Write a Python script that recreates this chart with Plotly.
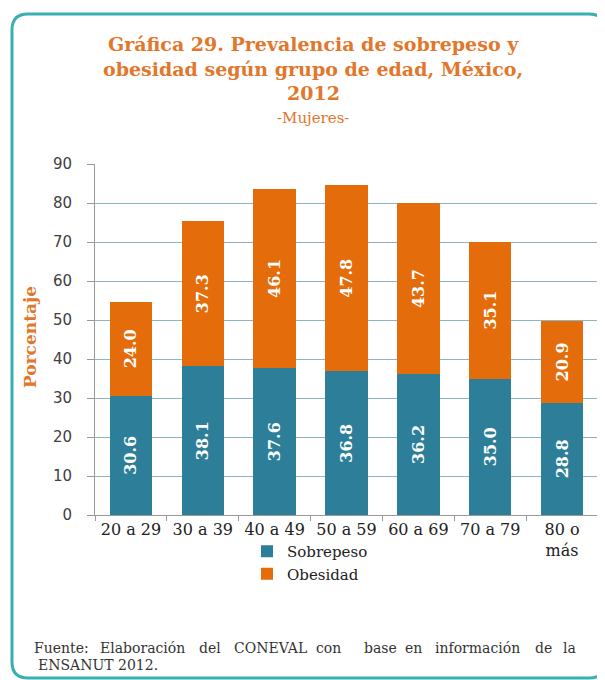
import plotly.graph_objects as go

categories = ["20 a 29", "30 a 39", "40 a 49", "50 a 59", "60 a 69", "70 a 79", "80 o<br>más"]
sobrepeso = [30.6, 38.1, 37.6, 36.8, 36.2, 35.0, 28.8]
obesidad = [24.0, 37.3, 46.1, 47.8, 43.7, 35.1, 20.9]
y_ticks = [0, 10, 20, 30, 40, 50, 60, 70, 80, 90]

OFF = 8  # page body margin
W, H = 605 - OFF, 680 - OFF
ML, MT = 95 - OFF, 164 - OFF
PLOT_R, PLOT_B = 598 - OFF, 515 - OFF
MR, MB = W - PLOT_R, H - PLOT_B
PW = PLOT_R - ML
PH = PLOT_B - MT

def px(x):
    # page pixel -> paper x
    return (x - OFF - ML) / PW

def py(y):
    # page pixel -> paper y
    return (PLOT_B - (y - OFF)) / PH

BLUE = "#2C7E99"
ORANGE = "#E46C0A"
TITLE_C = "#E2762A"
SERIF = "DejaVu Serif"

fig = go.Figure()
fig.add_trace(go.Bar(
    x=categories, y=sobrepeso, name="Sobrepeso", legendgroup="a",
    marker=dict(color=BLUE, line=dict(width=0)),
    texttemplate="%{y:.1f}", textposition="inside", insidetextanchor="middle", textangle=-90,
    textfont=dict(family=SERIF, size=16, color="white", weight="bold"), constraintext="none",
))
fig.add_trace(go.Bar(
    x=categories, y=obesidad, name="Obesidad", legendgroup="b",
    marker=dict(color=ORANGE, line=dict(width=0)),
    texttemplate="%{y:.1f}", textposition="inside", insidetextanchor="middle", textangle=-90,
    textfont=dict(family=SERIF, size=16, color="white", weight="bold"), constraintext="none",
))

annotations = []
title_lines = [
    ("<b>Gráfica 29. Prevalencia de sobrepeso y</b>", 44, 19),
    ("<b>obesidad según grupo de edad, México,</b>", 69, 19),
    ("<b>2012</b>", 93, 19),
    ("-Mujeres-", 118, 15),
]
for txt, yy, sz in title_lines:
    annotations.append(dict(text=txt, x=px(313), y=py(yy), xref="paper", yref="paper",
                            xanchor="center", yanchor="middle", showarrow=False,
                            font=dict(family=SERIF, size=sz, color=TITLE_C)))
annotations.append(dict(text="<b>Porcentaje</b>", x=px(30), y=py(337), xref="paper", yref="paper",
                        xanchor="center", yanchor="middle", textangle=-90, showarrow=False,
                        font=dict(family=SERIF, size=17, color=TITLE_C)))

footer_words = [("Fuente:", 61), ("Elaboración", 142.5), ("del", 210), ("CONEVAL", 270.5),
                ("con", 328.5), ("base", 380.5), ("en", 413), ("información", 477),
                ("de", 543.5), ("la", 569.5)]
for w, xx in footer_words:
    annotations.append(dict(text=w, x=px(xx), y=py(648), xref="paper", yref="paper",
                            xanchor="center", yanchor="middle", showarrow=False,
                            font=dict(family=SERIF, size=14, color="#333333")))
annotations.append(dict(text="ENSANUT 2012.", x=px(36), y=py(665), xref="paper", yref="paper",
                        xanchor="left", yanchor="middle", showarrow=False,
                        font=dict(family=SERIF, size=14, color="#333333")))

# rounded border
x0, y0, x1, y1, r = 12, 14, 605, 678, 16
def P(x, y):
    return f"{px(x):.5f},{py(y):.5f}"
path = (f"M {P(x0 + r, y0)} L {P(x1 - r, y0)} Q {P(x1, y0)} {P(x1, y0 + r)} "
        f"L {P(x1, y1 - r)} Q {P(x1, y1)} {P(x1 - r, y1)} L {P(x0 + r, y1)} "
        f"Q {P(x0, y1)} {P(x0, y1 - r)} L {P(x0, y0 + r)} Q {P(x0, y0)} {P(x0 + r, y0)} Z")
shapes = [dict(type="path", path=path, xref="paper", yref="paper",
               line=dict(color="#3AAFB0", width=3), layer="below")]

fig.update_layout(
    width=W, height=H, autosize=False,
    margin=dict(l=ML, r=MR, t=MT, b=MB),
    paper_bgcolor="white", plot_bgcolor="white",
    barmode="stack", bargap=0.41,
    showlegend=True,
    legend=dict(orientation="v", x=px(247), y=py(535), xanchor="left", yanchor="top",
                traceorder="normal", tracegroupgap=4,
                font=dict(family=SERIF, size=15, color="#222222"),
                bgcolor="rgba(0,0,0,0)", itemwidth=30),
    annotations=annotations,
    shapes=shapes,
    xaxis=dict(type="category", tickson="boundaries", ticks="outside", ticklen=5,
               tickcolor="#999999", showline=True, linecolor="#999999", linewidth=1,
               showgrid=False, tickfont=dict(family=SERIF, size=16, color="#222222")),
    yaxis=dict(range=[0, 90], tickvals=y_ticks, ticks="outside", ticklen=7,
               tickcolor="#999999", showline=True, linecolor="#999999", linewidth=1,
               showgrid=True, gridcolor="#8DB4C2", gridwidth=1, zeroline=False,
               ticklabelstandoff=12,
               tickfont=dict(family="DejaVu Sans", size=15, color="#404040")),
)

fig.write_html("out.html")
